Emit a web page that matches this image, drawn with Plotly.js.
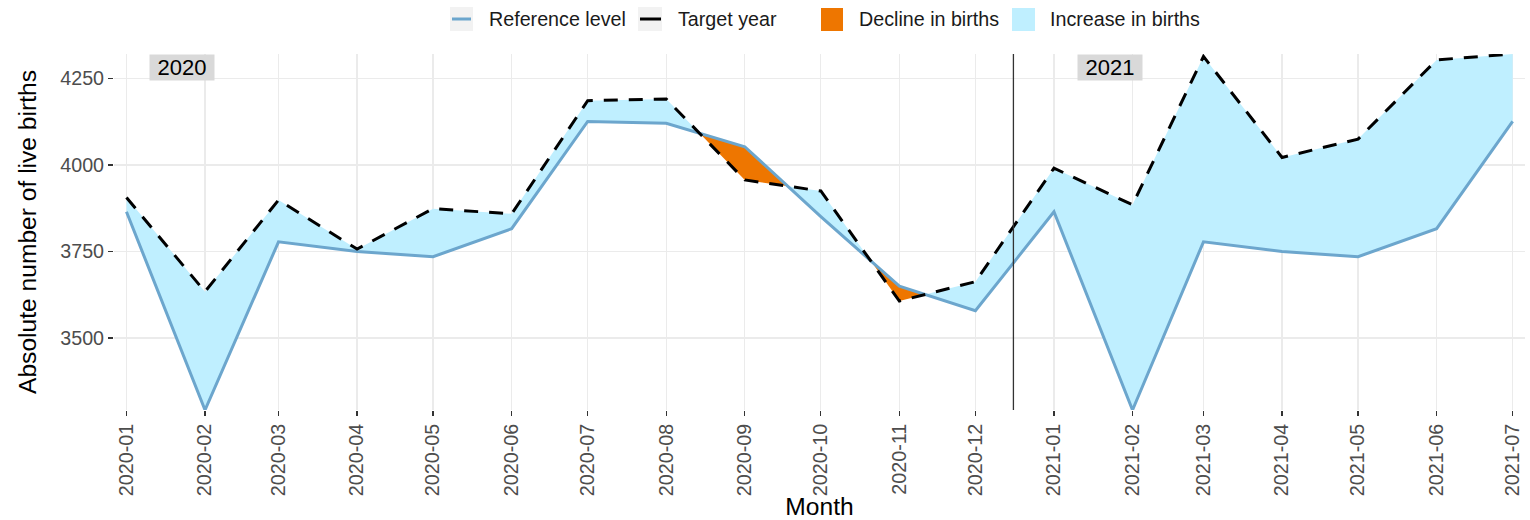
<!DOCTYPE html>
<html>
<head>
<meta charset="utf-8">
<script src="https://cdn.plot.ly/plotly-3.0.1.min.js"></script>
<style>
  html, body { margin: 0; padding: 0; background: #ffffff; }
  #chart { width: 1530px; height: 520px; }
</style>
</head>
<body>
<div id="chart"></div>
<script>
// Monthly live births: reference level vs. target year
const months = ['2020-01', '2020-02', '2020-03', '2020-04', '2020-05', '2020-06',
                '2020-07', '2020-08', '2020-09', '2020-10', '2020-11', '2020-12',
                '2021-01', '2021-02', '2021-03', '2021-04', '2021-05', '2021-06', '2021-07'];
const referenceLevel = [3865, 3292, 3778, 3750, 3735, 3816, 4126, 4121, 4053, 3851, 3650, 3579,
                        3865, 3292, 3778, 3750, 3735, 3816, 4126];
const targetYear = [3906, 3634, 3899, 3757, 3874, 3859, 4186, 4191, 3957, 3925, 3607, 3663,
                    3991, 3885, 4314, 4022, 4075, 4304, 4321];
const yearLabels = ['2020', '2021'];
const yearLabelDates = ['2020-01-23', '2021-01-23'];
const yearBoundary = '2020-12-16';
const legendLabels = ['Reference level', 'Target year', 'Decline in births', 'Increase in births'];

const COL_REF = '#6CA6CD';
const COL_DECLINE = '#EE7600';
const COL_INCREASE = '#BFEFFF';
const FONT = 'Liberation Sans, Arial, Helvetica, sans-serif';

// Month strings -> first-of-month dates in ms
const toMs = m => Date.UTC(+m.slice(0, 4), +m.slice(5, 7) - 1, 1);
const msToStr = ms => new Date(ms).toISOString().replace('T', ' ').replace('Z', '');
const dates = months.map(m => m + '-01');

// Insert the points where the two series cross so the ribbons switch colour cleanly
const xs = [], refI = [], tgtI = [];
for (let i = 0; i < months.length; i++) {
  xs.push(dates[i]); refI.push(referenceLevel[i]); tgtI.push(targetYear[i]);
  if (i < months.length - 1) {
    const d0 = targetYear[i] - referenceLevel[i];
    const d1 = targetYear[i + 1] - referenceLevel[i + 1];
    if (d0 * d1 < 0) {
      const f = d0 / (d0 - d1);
      const t0 = toMs(months[i]), t1 = toMs(months[i + 1]);
      const v = referenceLevel[i] + f * (referenceLevel[i + 1] - referenceLevel[i]);
      xs.push(msToStr(t0 + f * (t1 - t0))); refI.push(v); tgtI.push(v);
    }
  }
}
const upper = refI.map((r, k) => Math.max(r, tgtI[k]));
const lower = refI.map((r, k) => Math.min(r, tgtI[k]));

const base = { x: xs, y: refI, mode: 'lines', line: { width: 0 }, hoverinfo: 'skip', showlegend: false };
const traces = [
  Object.assign({}, base),
  { x: xs, y: upper, mode: 'lines', line: { width: 0 }, fill: 'tonexty', fillcolor: COL_INCREASE,
    name: legendLabels[3], showlegend: false, hoverinfo: 'skip' },
  Object.assign({}, base),
  { x: xs, y: lower, mode: 'lines', line: { width: 0 }, fill: 'tonexty', fillcolor: COL_DECLINE,
    name: legendLabels[2], showlegend: false, hoverinfo: 'skip' },
  { x: dates, y: referenceLevel, mode: 'lines', name: legendLabels[0], showlegend: false,
    line: { color: COL_REF, width: 3 } },
  { x: dates, y: targetYear, mode: 'lines', name: legendLabels[1], showlegend: false,
    line: { color: '#000000', width: 3, dash: '14px,11px' } }
];

// Plot-area geometry (pixels)
const M = { l: 114, r: 5, t: 54, b: 110 };
const W = 1530 - M.l - M.r, H = 520 - M.t - M.b;
const px = x => (x - M.l) / W;
const py = y => (520 - M.b - y) / H;

// Legend drawn along the top
const shapes = [
  { type: 'line', xref: 'x', yref: 'paper', x0: yearBoundary, x1: yearBoundary, y0: 0, y1: 1,
    line: { color: '#333333', width: 1.3 }, layer: 'above' },
  { type: 'rect', xref: 'paper', yref: 'paper', x0: px(450), x1: px(473), y0: py(31), y1: py(7),
    fillcolor: '#F2F2F2', line: { width: 0 } },
  { type: 'line', xref: 'paper', yref: 'paper', x0: px(452), x1: px(471), y0: py(19), y1: py(19),
    line: { color: COL_REF, width: 3 } },
  { type: 'rect', xref: 'paper', yref: 'paper', x0: px(638), x1: px(662), y0: py(31), y1: py(7),
    fillcolor: '#F2F2F2', line: { width: 0 } },
  { type: 'line', xref: 'paper', yref: 'paper', x0: px(640), x1: px(661), y0: py(19), y1: py(19),
    line: { color: '#000000', width: 3 } },
  { type: 'rect', xref: 'paper', yref: 'paper', x0: px(821), x1: px(843), y0: py(31), y1: py(8),
    fillcolor: COL_DECLINE, line: { width: 0 } },
  { type: 'rect', xref: 'paper', yref: 'paper', x0: px(1012), x1: px(1035), y0: py(31), y1: py(8),
    fillcolor: COL_INCREASE, line: { width: 0 } }
];

const legendTextX = [487, 676, 857, 1048];
const annotations = legendLabels.map((t, i) => ({
  text: t, xref: 'paper', yref: 'paper', x: px(legendTextX[i]), y: py(19),
  xanchor: 'left', yanchor: 'middle', showarrow: false,
  font: { family: FONT, size: 19.7, color: '#1A1A1A' }
}));
yearLabels.forEach((t, i) => annotations.push({
  text: t, xref: 'x', yref: 'paper', x: yearLabelDates[i], y: 1,
  xanchor: 'center', yanchor: 'top', showarrow: false,
  width: 64, height: 25, bgcolor: '#D9D9D9', borderpad: 0,
  font: { family: FONT, size: 22, color: '#000000' }
}));

const layout = {
  width: 1530, height: 520,
  margin: M,
  paper_bgcolor: '#FFFFFF', plot_bgcolor: '#FFFFFF',
  showlegend: false,
  font: { family: FONT },
  xaxis: {
    type: 'date',
    range: ['2019-12-27 02:00', '2021-07-05 21:00'],
    tick0: '2020-01-01', dtick: 'M1', tickformat: '%Y-%m', tickangle: -90,
    ticks: 'outside', ticklen: 5, tickwidth: 1.2, tickcolor: '#333333',
    tickfont: { family: FONT, size: 19.7, color: '#4D4D4D' },
    showgrid: true, gridcolor: '#EBEBEB', gridwidth: 1.2,
    zeroline: false, showline: false,
    title: { text: 'Month', font: { family: FONT, size: 24.6, color: '#000000' }, standoff: 5 }
  },
  yaxis: {
    range: [Math.min(...referenceLevel), Math.max(...targetYear)],
    tickvals: [3500, 3750, 4000, 4250],
    ticks: 'outside', ticklen: 5, tickwidth: 1.2, tickcolor: '#333333',
    tickfont: { family: FONT, size: 19.7, color: '#4D4D4D' },
    showgrid: true, gridcolor: '#EBEBEB', gridwidth: 1.2,
    zeroline: false, showline: false,
    title: { text: 'Absolute number of live births', font: { family: FONT, size: 24.6, color: '#000000' }, standoff: 16 }
  },
  shapes: shapes,
  annotations: annotations
};

Plotly.newPlot('chart', traces, layout, { displayModeBar: false, staticPlot: true });
</script>
</body>
</html>
